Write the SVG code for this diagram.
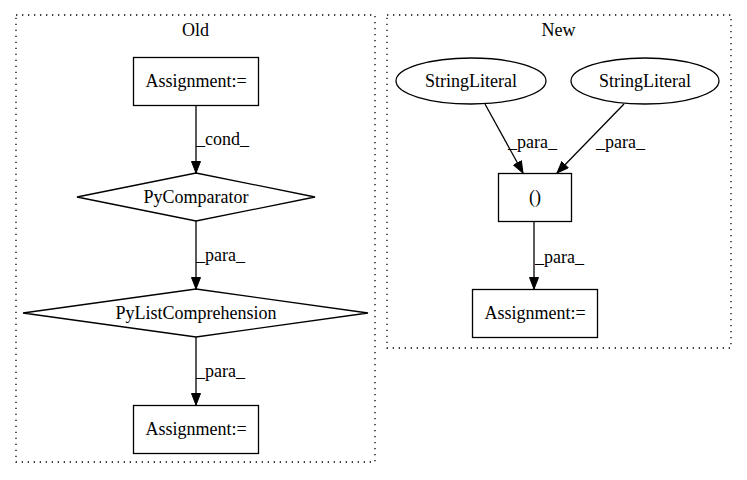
<svg xmlns="http://www.w3.org/2000/svg" width="747" height="480" viewBox="0 0 747 480">
<style>
text{font-family:"Liberation Serif","Times New Roman",serif;font-size:18px;fill:#000}
.c{text-anchor:middle}
.cl{fill:none;stroke:#000;stroke-width:1.3;stroke-dasharray:1.3,4.7}
.n{fill:none;stroke:#000;stroke-width:1.3}
.e{fill:none;stroke:#000;stroke-width:1.3}
</style>
<defs>
<marker id="ah" markerWidth="12" markerHeight="10" refX="12" refY="5" orient="auto" markerUnits="userSpaceOnUse">
<path d="M0.5,0.5 L12,5 L0.5,9.5 Z" fill="#000" stroke="#000"/>
</marker>
</defs>
<rect width="747" height="480" fill="#fff"/>
<g id="cluster_old">
<rect class="cl" x="16" y="15" width="359" height="447"/>
<text class="c" x="195.5" y="36">Old</text>
</g>
<g id="cluster_new">
<rect class="cl" x="387" y="15" width="344" height="333"/>
<text class="c" x="558.5" y="36">New</text>
</g>
<g id="old_assign1">
<rect class="n" x="133.5" y="57.5" width="125" height="48"/>
<text class="c" x="196" y="87">Assignment:=</text>
</g>
<g id="old_pycomparator">
<polygon class="n" points="196,173 315,197 196,221 77,197"/>
<text class="c" x="196" y="203">PyComparator</text>
</g>
<g id="old_pylistcomp">
<polygon class="n" points="196,289 368,313 196,337 23,313"/>
<text class="c" x="196" y="319">PyListComprehension</text>
</g>
<g id="old_assign2">
<rect class="n" x="133.5" y="405.5" width="125" height="48"/>
<text class="c" x="196" y="435">Assignment:=</text>
</g>
<g id="new_sl1">
<ellipse class="n" cx="471" cy="81" rx="75" ry="23"/>
<text class="c" x="471" y="87">StringLiteral</text>
</g>
<g id="new_sl2">
<ellipse class="n" cx="645" cy="81" rx="74" ry="23"/>
<text class="c" x="645" y="87">StringLiteral</text>
</g>
<g id="new_paren">
<rect class="n" x="498.5" y="173.5" width="73" height="48"/>
<text class="c" x="535" y="203">()</text>
</g>
<g id="new_assign">
<rect class="n" x="472.5" y="289.5" width="125" height="48"/>
<text class="c" x="535" y="319">Assignment:=</text>
</g>
<g id="edges">
<line class="e" x1="196" y1="106" x2="196" y2="173" marker-end="url(#ah)"/>
<text x="196" y="145">_cond_</text>
<line class="e" x1="196" y1="221" x2="196" y2="289" marker-end="url(#ah)"/>
<text x="196" y="261">_para_</text>
<line class="e" x1="196" y1="337" x2="196" y2="405" marker-end="url(#ah)"/>
<text x="196" y="377">_para_</text>
<line class="e" x1="485" y1="104" x2="523" y2="173" marker-end="url(#ah)"/>
<text x="508" y="148">_para_</text>
<line class="e" x1="624" y1="104" x2="557" y2="173" marker-end="url(#ah)"/>
<text x="596" y="148">_para_</text>
<line class="e" x1="534" y1="221" x2="534" y2="289" marker-end="url(#ah)"/>
<text x="535" y="263">_para_</text>
</g>
</svg>
